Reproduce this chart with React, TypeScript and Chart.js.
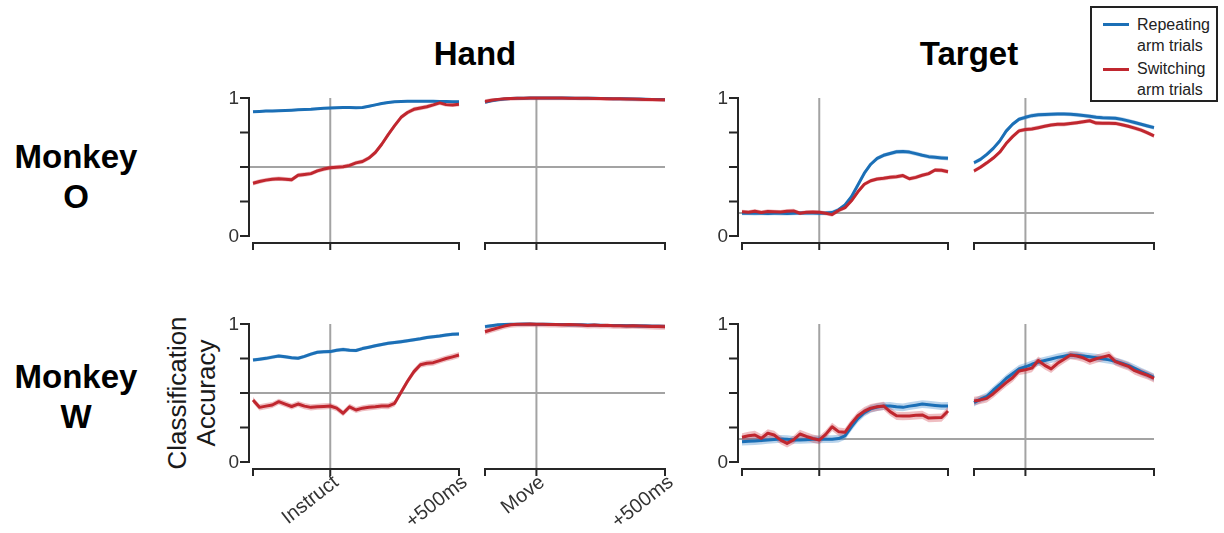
import React, { useEffect, useRef } from "react";
import { Chart, registerables } from "chart.js";

Chart.register(...registerables);

// ---- time bases (ms relative to alignment event) ----
const INSTRUCT_MS = [
  -300, -275, -250, -225, -200, -175, -150, -125, -100, -75, -50, -25, 0, 25, 50, 75, 100,
  125, 150, 175, 200, 225, 250, 275, 300, 325, 350, 375, 400, 425, 450, 475, 500,
];
const MOVE_MS = [
  -200, -175, -150, -125, -100, -75, -50, -25, 0, 25, 50, 75, 100, 125, 150, 175, 200, 225,
  250, 275, 300, 325, 350, 375, 400, 425, 450, 475, 500,
];

// ---- Monkey O, hand decoding ----
const handO_repeat_instruct = [
  0.900, 0.902, 0.905, 0.906, 0.908, 0.910, 0.912, 0.914, 0.916, 0.918, 0.922, 0.925, 0.928,
  0.930, 0.932, 0.931, 0.930, 0.931, 0.940, 0.950, 0.960, 0.967, 0.972, 0.975, 0.976, 0.977,
  0.977, 0.976, 0.976, 0.975, 0.974, 0.973, 0.973,
];
const handO_switch_instruct = [
  0.382, 0.395, 0.405, 0.412, 0.415, 0.412, 0.408, 0.440, 0.446, 0.452, 0.472, 0.485, 0.495,
  0.498, 0.502, 0.512, 0.530, 0.540, 0.565, 0.605, 0.665, 0.735, 0.800, 0.860, 0.895, 0.918,
  0.928, 0.937, 0.950, 0.965, 0.952, 0.950, 0.954,
];
const handO_repeat_move = [
  0.968, 0.980, 0.988, 0.993, 0.996, 0.998, 0.999, 1.0, 1.0, 1.0, 1.0, 1.0, 1.0, 1.0, 0.999,
  0.999, 0.998, 0.998, 0.997, 0.996, 0.995, 0.995, 0.994, 0.993, 0.992, 0.991, 0.990, 0.989, 0.988,
];
const handO_switch_move = [
  0.975, 0.983, 0.990, 0.994, 0.996, 0.998, 0.999, 1.0, 1.0, 1.0, 1.0, 1.0, 1.0, 0.999, 0.999,
  0.998, 0.998, 0.997, 0.996, 0.995, 0.995, 0.994, 0.993, 0.992, 0.991, 0.990, 0.989, 0.988, 0.987,
];

// ---- Monkey O, target decoding ----
const targetO_repeat_instruct = [
  0.165, 0.166, 0.164, 0.165, 0.163, 0.165, 0.164, 0.163, 0.165, 0.167, 0.166, 0.166, 0.165,
  0.166, 0.170, 0.190, 0.225, 0.285, 0.370, 0.455, 0.520, 0.563, 0.585, 0.598, 0.610, 0.612,
  0.608, 0.597, 0.585, 0.575, 0.570, 0.566, 0.563,
];
const targetO_switch_instruct = [
  0.175, 0.172, 0.180, 0.170, 0.178, 0.176, 0.174, 0.180, 0.182, 0.165, 0.172, 0.174, 0.172,
  0.165, 0.155, 0.185, 0.205, 0.255, 0.320, 0.375, 0.400, 0.413, 0.418, 0.425, 0.430, 0.438,
  0.415, 0.425, 0.440, 0.452, 0.478, 0.476, 0.466,
];
const targetO_repeat_move = [
  0.531, 0.555, 0.592, 0.635, 0.688, 0.760, 0.810, 0.846, 0.860, 0.872, 0.878, 0.880, 0.882,
  0.884, 0.884, 0.882, 0.878, 0.873, 0.867, 0.861, 0.857, 0.855, 0.853, 0.845, 0.834, 0.822,
  0.810, 0.797, 0.785,
];
const targetO_switch_move = [
  0.471, 0.498, 0.530, 0.565, 0.607, 0.670, 0.720, 0.762, 0.772, 0.776, 0.785, 0.795, 0.804,
  0.809, 0.809, 0.815, 0.821, 0.828, 0.835, 0.818, 0.817, 0.817, 0.816, 0.806, 0.795, 0.782,
  0.767, 0.747, 0.725,
];

// ---- Monkey W, hand decoding ----
const handW_repeat_instruct = [
  0.739, 0.745, 0.751, 0.760, 0.768, 0.762, 0.755, 0.752, 0.765, 0.782, 0.795, 0.799, 0.800,
  0.810, 0.816, 0.810, 0.808, 0.822, 0.832, 0.842, 0.852, 0.860, 0.866, 0.872, 0.879, 0.886,
  0.893, 0.902, 0.908, 0.913, 0.920, 0.926, 0.928,
];
const handW_switch_instruct = [
  0.449, 0.396, 0.405, 0.413, 0.437, 0.420, 0.402, 0.420, 0.405, 0.396, 0.400, 0.403, 0.406,
  0.390, 0.353, 0.400, 0.377, 0.390, 0.396, 0.400, 0.406, 0.405, 0.425, 0.505, 0.585, 0.655,
  0.705, 0.716, 0.720, 0.735, 0.750, 0.762, 0.775,
];
const handW_repeat_move = [
  0.981, 0.988, 0.994, 0.997, 0.998, 0.999, 1.0, 1.0, 0.999, 0.999, 0.998, 0.997, 0.996, 0.995,
  0.994, 0.994, 0.993, 0.992, 0.991, 0.990, 0.989, 0.989, 0.988, 0.987, 0.986, 0.985, 0.984,
  0.983, 0.982,
];
const handW_switch_move = [
  0.944, 0.958, 0.972, 0.985, 0.995, 0.998, 0.999, 1.0, 0.999, 0.998, 0.997, 0.996, 0.995,
  0.996, 0.994, 0.993, 0.990, 0.992, 0.989, 0.991, 0.988, 0.987, 0.985, 0.987, 0.986, 0.984,
  0.982, 0.981, 0.980,
];

// ---- Monkey W, target decoding ----
const targetW_repeat_instruct = [
  0.147, 0.150, 0.152, 0.155, 0.160, 0.163, 0.167, 0.165, 0.160, 0.160, 0.162, 0.164, 0.164,
  0.165, 0.165, 0.170, 0.190, 0.255, 0.315, 0.358, 0.385, 0.398, 0.405, 0.406, 0.400, 0.396,
  0.405, 0.412, 0.420, 0.415, 0.410, 0.405, 0.406,
];
const targetW_switch_instruct = [
  0.179, 0.190, 0.196, 0.171, 0.208, 0.196, 0.159, 0.135, 0.160, 0.203, 0.185, 0.170, 0.159,
  0.200, 0.255, 0.220, 0.215, 0.280, 0.335, 0.368, 0.390, 0.400, 0.406, 0.365, 0.335, 0.333,
  0.334, 0.338, 0.341, 0.318, 0.320, 0.322, 0.370,
];
const targetW_repeat_move = [
  0.430, 0.455, 0.475, 0.520, 0.560, 0.605, 0.640, 0.675, 0.690, 0.708, 0.723, 0.735, 0.746,
  0.758, 0.767, 0.775, 0.774, 0.768, 0.762, 0.756, 0.748, 0.740, 0.730, 0.716, 0.700, 0.678,
  0.655, 0.635, 0.614,
];
const targetW_switch_move = [
  0.442, 0.450, 0.461, 0.495, 0.535, 0.575, 0.610, 0.660, 0.668, 0.680, 0.735, 0.700, 0.675,
  0.715, 0.745, 0.775, 0.768, 0.755, 0.732, 0.748, 0.760, 0.772, 0.728, 0.710, 0.693, 0.662,
  0.645, 0.628, 0.606,
];

// standard errors (half-width of shaded bands)
const SEM_HAND_O = { repeat: 0.009, switching: 0.016 };
const SEM_TARGET_O = { repeat: 0.015, switching: 0.015 };
const SEM_HAND_W = { repeat: 0.013, switching: 0.022 };
const SEM_TARGET_W = { repeat: 0.028, switching: 0.03 };

// chance levels: two arms for hand, six targets for target
const CHANCE_HAND = 0.5;
const CHANCE_TARGET = 0.167;

const Y_TICKS = [0, 0.25, 0.5, 0.75, 1];
const Y_TICK_LABELS: Record<string, string> = { "0": "0", "1": "1" };
const INSTRUCT_LABELS = ["Instruct", "+500ms"];
const MOVE_LABELS = ["Move", "+500ms"];

const BLUE = "#1b6fb6";
const RED = "#c0272f";
const BLUE_BAND = "rgba(40,120,195,0.32)";
const RED_BAND = "rgba(210,70,80,0.35)";
const AXIS = "#262626";
const GUIDE = "#a3a3a3";
const FONT = '"Liberation Sans", Arial, Helvetica, sans-serif';

type Pad = { left: number; right: number; top: number; bottom: number };
type PanelProps = {
  times: number[];
  repeat: number[];
  switching: number[];
  sem: { repeat: number; switching: number };
  chance: number;
  left: number;
  top: number;
  width: number;
  height: number;
  pad: Pad;
  yAxis: boolean;
  tickLabels?: string[];
};

function Panel(p: PanelProps) {
  const ref = useRef<HTMLCanvasElement>(null);

  useEffect(() => {
    const canvas = ref.current;
    if (!canvas) return;
    const xMin = p.times[0];
    const xMax = p.times[p.times.length - 1];
    const pts = (vals: number[], off: number) =>
      p.times.map((t, i) => ({ x: t, y: vals[i] + off }));

    const frame = {
      id: "panelFrame",
      beforeDatasetsDraw(chart: any) {
        const { ctx, chartArea } = chart;
        const xs = chart.scales.x;
        const ys = chart.scales.y;
        const axisY = ys.getPixelForValue(0) + 7;
        ctx.save();
        ctx.strokeStyle = GUIDE;
        ctx.lineWidth = 2;
        const x0 = xs.getPixelForValue(0);
        ctx.beginPath();
        ctx.moveTo(x0, ys.getPixelForValue(1));
        ctx.lineTo(x0, axisY);
        ctx.stroke();
        const yc = ys.getPixelForValue(p.chance);
        ctx.beginPath();
        ctx.moveTo(p.yAxis ? chartArea.left - 4 : 0, yc);
        ctx.lineTo(p.yAxis ? chart.width : chartArea.right, yc);
        ctx.stroke();
        ctx.restore();
      },
      afterDatasetsDraw(chart: any) {
        const { ctx, chartArea } = chart;
        const xs = chart.scales.x;
        const ys = chart.scales.y;
        const axisY = ys.getPixelForValue(0) + 7;
        ctx.save();
        ctx.strokeStyle = AXIS;
        ctx.fillStyle = "#333";
        ctx.lineWidth = 2;
        ctx.lineCap = "square";
        // x axis with ticks at window start, event and +500ms
        ctx.beginPath();
        ctx.moveTo(xs.getPixelForValue(xMin), axisY);
        ctx.lineTo(xs.getPixelForValue(xMax), axisY);
        [xMin, 0, xMax].forEach((t) => {
          const px = xs.getPixelForValue(t);
          ctx.moveTo(px, axisY);
          ctx.lineTo(px, axisY + 6);
        });
        ctx.stroke();
        if (p.yAxis) {
          const ax = chartArea.left - 4;
          ctx.beginPath();
          ctx.moveTo(ax, ys.getPixelForValue(1));
          ctx.lineTo(ax, ys.getPixelForValue(0));
          Y_TICKS.forEach((v) => {
            const py = ys.getPixelForValue(v);
            ctx.moveTo(ax, py);
            ctx.lineTo(ax - 8, py);
          });
          ctx.stroke();
          ctx.font = `19px ${FONT}`;
          ctx.textAlign = "right";
          ctx.textBaseline = "middle";
          Y_TICKS.forEach((v) => {
            const lab = Y_TICK_LABELS[String(v)];
            if (lab) ctx.fillText(lab, ax - 10, ys.getPixelForValue(v) + 1);
          });
        }
        if (p.tickLabels) {
          ctx.font = `20px ${FONT}`;
          ctx.textAlign = "right";
          ctx.textBaseline = "middle";
          [0, xMax].forEach((t, i) => {
            const px = xs.getPixelForValue(t);
            ctx.save();
            ctx.translate(px + 6, axisY + 11);
            ctx.rotate((-38 * Math.PI) / 180);
            ctx.fillText(p.tickLabels![i], 0, 0);
            ctx.restore();
          });
        }
        ctx.restore();
      },
    };

    const band = { borderWidth: 0, pointRadius: 0, clip: false as const };
    const line = { borderWidth: 3, pointRadius: 0, fill: false, clip: false as const, borderJoinStyle: "round" as const };
    const chart = new Chart(canvas, {
      type: "line",
      data: {
        datasets: [
          { ...band, label: "rep hi", data: pts(p.repeat, p.sem.repeat), fill: false, order: 3 },
          { ...band, label: "rep lo", data: pts(p.repeat, -p.sem.repeat), fill: "-1", backgroundColor: BLUE_BAND, order: 3 },
          { ...band, label: "sw hi", data: pts(p.switching, p.sem.switching), fill: false, order: 2 },
          { ...band, label: "sw lo", data: pts(p.switching, -p.sem.switching), fill: "-1", backgroundColor: RED_BAND, order: 2 },
          { ...line, label: "Repeating arm trials", data: pts(p.repeat, 0), borderColor: BLUE, order: 1 },
          { ...line, label: "Switching arm trials", data: pts(p.switching, 0), borderColor: RED, order: 0 },
        ],
      },
      options: {
        responsive: false,
        animation: false,
        events: [],
        layout: { padding: p.pad },
        scales: {
          x: { type: "linear", min: xMin, max: xMax, display: false },
          y: { type: "linear", min: 0, max: 1, display: false },
        },
        plugins: { legend: { display: false }, tooltip: { enabled: false } },
      },
      plugins: [frame],
    });
    return () => chart.destroy();
  }, []);

  return (
    <canvas
      ref={ref}
      width={p.width}
      height={p.height}
      style={{ position: "absolute", left: p.left, top: p.top, width: p.width, height: p.height }}
    />
  );
}

const TOP = { top: 80, height: 180, pad: { top: 18, bottom: 24 } };
const BOTTOM = { top: 306, height: 227, pad: { top: 18, bottom: 71 } };
const COL_HI = { left: 200, width: 272, pad: { left: 53, right: 13 } };
const COL_HM = { left: 472, width: 208, pad: { left: 13, right: 15 } };
const COL_TI = { left: 690, width: 271, pad: { left: 52, right: 13 } };
const COL_TM = { left: 961, width: 209, pad: { left: 13, right: 16 } };

function place(row: typeof TOP, col: typeof COL_HI) {
  return {
    left: col.left,
    top: row.top,
    width: col.width,
    height: row.height,
    pad: { left: col.pad.left, right: col.pad.right, top: row.pad.top, bottom: row.pad.bottom },
  };
}

const text: React.CSSProperties = { position: "absolute", color: "#000", whiteSpace: "nowrap" };

export default function App() {
  return (
    <div
      style={{
        position: "absolute",
        left: 0,
        top: 0,
        width: 1224,
        height: 533,
        background: "#fff",
        fontFamily: FONT,
        overflow: "hidden",
      }}
    >
      <div style={{ ...text, left: 475, top: 53, transform: "translate(-50%,-50%)", fontSize: 33, fontWeight: 700, lineHeight: 1 }}>
        Hand
      </div>
      <div style={{ ...text, left: 969, top: 53, transform: "translate(-50%,-50%)", fontSize: 33, fontWeight: 700, lineHeight: 1 }}>
        Target
      </div>
      <div style={{ ...text, left: 76, top: 177, transform: "translate(-50%,-50%)", fontSize: 33, fontWeight: 700, lineHeight: "40px", textAlign: "center" }}>
        Monkey
        <br />O
      </div>
      <div style={{ ...text, left: 76, top: 397, transform: "translate(-50%,-50%)", fontSize: 33, fontWeight: 700, lineHeight: "40px", textAlign: "center" }}>
        Monkey
        <br />W
      </div>
      <div style={{ ...text, left: 192, top: 393, transform: "translate(-50%,-50%) rotate(-90deg)", fontSize: 26, lineHeight: "29px", textAlign: "center", color: "#1a1a1a" }}>
        Classification
        <br />
        Accuracy
      </div>

      <Panel {...place(TOP, COL_HI)} times={INSTRUCT_MS} repeat={handO_repeat_instruct} switching={handO_switch_instruct} sem={SEM_HAND_O} chance={CHANCE_HAND} yAxis />
      <Panel {...place(TOP, COL_HM)} times={MOVE_MS} repeat={handO_repeat_move} switching={handO_switch_move} sem={SEM_HAND_O} chance={CHANCE_HAND} yAxis={false} />
      <Panel {...place(TOP, COL_TI)} times={INSTRUCT_MS} repeat={targetO_repeat_instruct} switching={targetO_switch_instruct} sem={SEM_TARGET_O} chance={CHANCE_TARGET} yAxis />
      <Panel {...place(TOP, COL_TM)} times={MOVE_MS} repeat={targetO_repeat_move} switching={targetO_switch_move} sem={SEM_TARGET_O} chance={CHANCE_TARGET} yAxis={false} />

      <Panel {...place(BOTTOM, COL_HI)} times={INSTRUCT_MS} repeat={handW_repeat_instruct} switching={handW_switch_instruct} sem={SEM_HAND_W} chance={CHANCE_HAND} yAxis tickLabels={INSTRUCT_LABELS} />
      <Panel {...place(BOTTOM, COL_HM)} times={MOVE_MS} repeat={handW_repeat_move} switching={handW_switch_move} sem={SEM_HAND_W} chance={CHANCE_HAND} yAxis={false} tickLabels={MOVE_LABELS} />
      <Panel {...place(BOTTOM, COL_TI)} times={INSTRUCT_MS} repeat={targetW_repeat_instruct} switching={targetW_switch_instruct} sem={SEM_TARGET_W} chance={CHANCE_TARGET} yAxis />
      <Panel {...place(BOTTOM, COL_TM)} times={MOVE_MS} repeat={targetW_repeat_move} switching={targetW_switch_move} sem={SEM_TARGET_W} chance={CHANCE_TARGET} yAxis={false} />

      {/* legend */}
      <div style={{ position: "absolute", left: 1090, top: 6, width: 124, height: 92, border: "2px solid #222", background: "#fff" }} />
      <div style={{ position: "absolute", left: 1103, top: 23, width: 26, height: 3, background: BLUE }} />
      <div style={{ position: "absolute", left: 1103, top: 68, width: 26, height: 3, background: RED }} />
      <div style={{ ...text, left: 1137, top: 14, fontSize: 16, lineHeight: "21px", color: "#222" }}>
        Repeating
        <br />
        arm trials
      </div>
      <div style={{ ...text, left: 1137, top: 58, fontSize: 16, lineHeight: "21px", color: "#222" }}>
        Switching
        <br />
        arm trials
      </div>
    </div>
  );
}
